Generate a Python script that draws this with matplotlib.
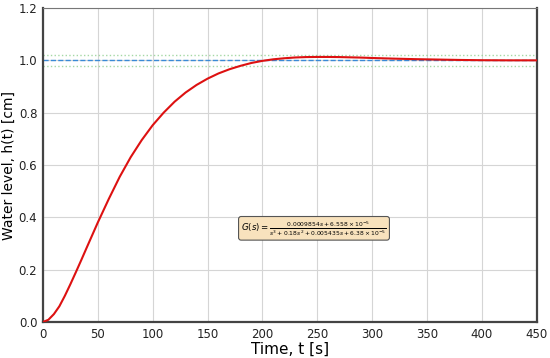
import matplotlib
matplotlib.use("Agg")
import matplotlib.pyplot as plt

# Step response values
time_s = [0, 5, 10, 15, 20, 25, 30, 35, 40, 50, 60, 70, 80, 90, 100, 110,
          120, 130, 140, 150, 160, 170, 180, 190, 200, 210, 220, 230, 240,
          250, 260, 270, 280, 290, 300, 320, 340, 360, 380, 400, 425, 450]
level_cm = [0.0, 0.0085, 0.03, 0.06, 0.10, 0.144, 0.19, 0.237, 0.285, 0.38,
            0.47, 0.555, 0.63, 0.695, 0.752, 0.80, 0.842, 0.877, 0.906,
            0.930, 0.950, 0.966, 0.979, 0.990, 0.998, 1.004, 1.008, 1.011,
            1.0125, 1.013, 1.013, 1.0125, 1.0115, 1.0105, 1.009, 1.0065,
            1.0045, 1.003, 1.0015, 1.0005, 1.0, 1.0]

setpoint = 1.0
band = [0.98, 1.02]
tf_label = (r"$G(s) = \frac{0.0009854s + 6.558 \times 10^{-5}}"
            r"{s^3 + 0.18s^2 + 0.005435s + 6.38 \times 10^{-5}}$")

fig = plt.figure(figsize=(5.5, 3.58), dpi=100)
ax = fig.add_axes([0.078, 0.1006, 0.898, 0.877])

ax.plot(time_s, level_cm, color="#dd1111", linewidth=1.5, zorder=3)
ax.axhline(setpoint, color="#3a8ad6", linestyle="--", linewidth=1.0, zorder=2)
for b in band:
    ax.axhline(b, color="#8fcf8f", linestyle=":", linewidth=1.0, alpha=0.8, zorder=2)

ax.text(247, 0.358, tf_label, fontsize=6.2, ha="center", va="center",
        bbox=dict(boxstyle="round,pad=0.3", facecolor="#f8e2bd",
                  edgecolor="#555555", linewidth=0.8))

ax.set_xlim(0, 450)
ax.set_ylim(0, 1.2)
ax.set_xticks(range(0, 451, 50))
ax.set_yticks([0.0, 0.2, 0.4, 0.6, 0.8, 1.0, 1.2])
ax.grid(True, color="#d5d5d5", linewidth=0.8)
ax.set_axisbelow(True)

ax.set_xlabel("Time, t [s]", fontsize=11, labelpad=1)
ax.set_ylabel("Water level, h(t) [cm]", fontsize=10, labelpad=2)
ax.tick_params(labelsize=8.5, length=0, pad=4, colors="#222222")

for side in ["left", "bottom", "right"]:
    ax.spines[side].set_linewidth(1.6)
    ax.spines[side].set_color("#444444")
ax.spines["top"].set_linewidth(0.8)
ax.spines["top"].set_color("#777777")

fig.savefig("out.png", dpi=100)
